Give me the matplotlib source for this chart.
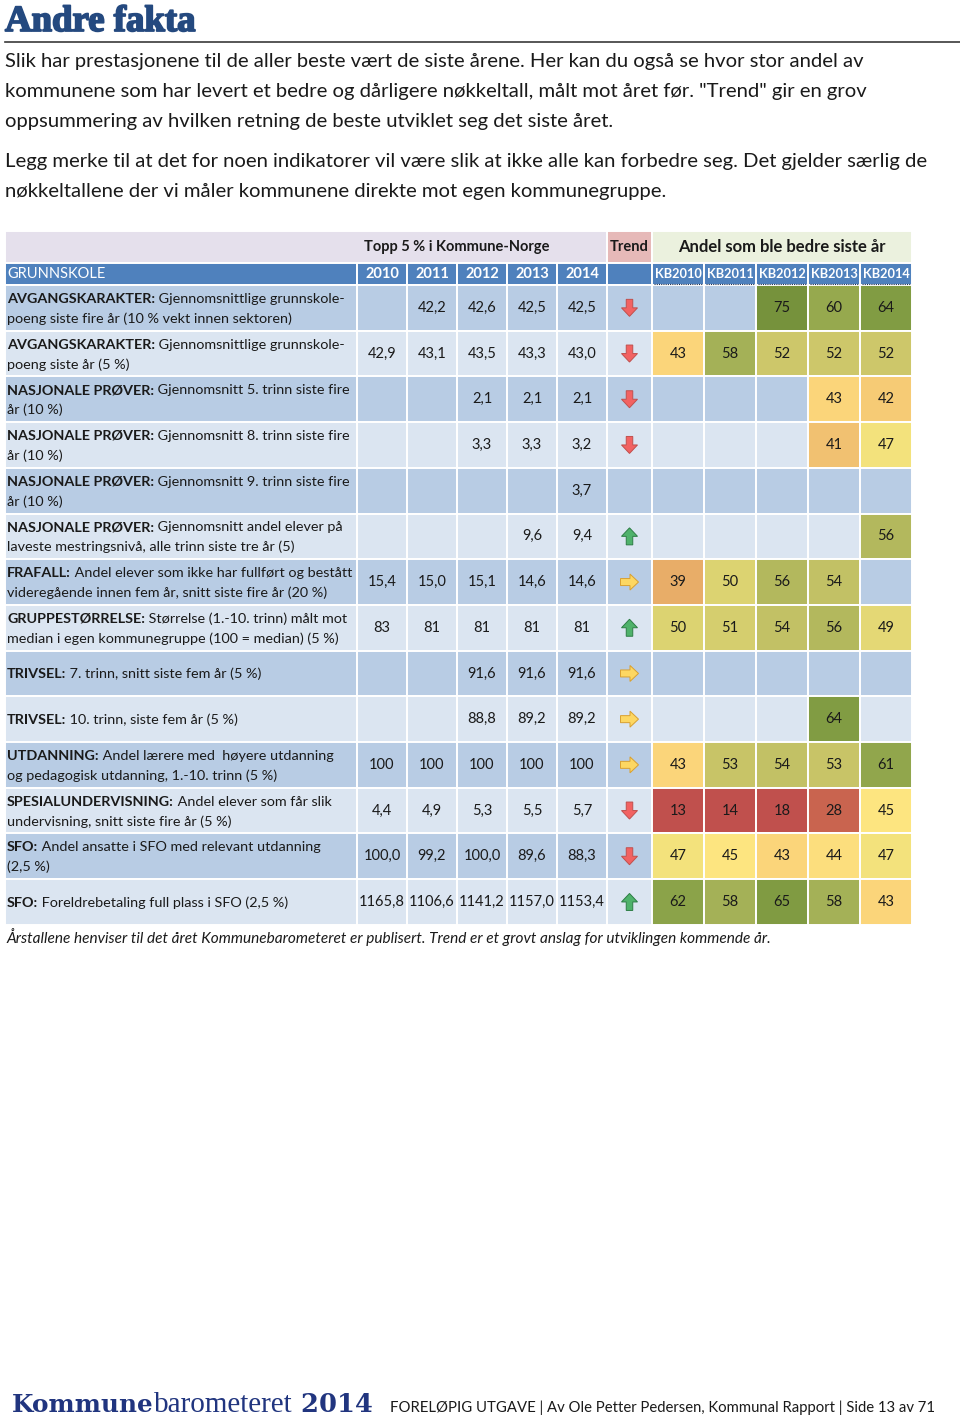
import numpy as np
import matplotlib
matplotlib.use("Agg")
import matplotlib.pyplot as plt
import matplotlib.patheffects as pe
from matplotlib.patches import Rectangle, FancyArrow
from matplotlib.colors import LinearSegmentedColormap, Normalize

plt.rcParams['font.family'] = ['Lato', 'DejaVu Sans']

# ---- data ----
years = ['2010', '2011', '2012', '2013', '2014']
kb_years = ['KB2010', 'KB2011', 'KB2012', 'KB2013', 'KB2014']

label_bold = ['AVGANGSKARAKTER:', 'AVGANGSKARAKTER:', 'NASJONALE PRØVER:',
              'NASJONALE PRØVER:', 'NASJONALE PRØVER:', 'NASJONALE PRØVER:',
              'FRAFALL:', 'GRUPPESTØRRELSE:', 'TRIVSEL:', 'TRIVSEL:',
              'UTDANNING:', 'SPESIALUNDERVISNING:', 'SFO:', 'SFO:']
label_line1 = [' Gjennomsnittlige grunnskole-',
               ' Gjennomsnittlige grunnskole-',
               ' Gjennomsnitt 5. trinn siste fire',
               ' Gjennomsnitt 8. trinn siste fire',
               ' Gjennomsnitt 9. trinn siste fire',
               ' Gjennomsnitt andel elever på',
               ' Andel elever som ikke har fullført og bestått',
               ' Størrelse (1.-10. trinn) målt mot',
               ' 7. trinn, snitt siste fem år (5 %)',
               ' 10. trinn, siste fem år (5 %)',
               ' Andel lærere med  høyere utdanning',
               ' Andel elever som får slik',
               ' Andel ansatte i SFO med relevant utdanning',
               ' Foreldrebetaling full plass i SFO (2,5 %)']
label_line2 = ['poeng siste fire år (10 % vekt innen sektoren)',
               'poeng siste år (5 %)',
               'år (10 %)',
               'år (10 %)',
               'år (10 %)',
               'laveste mestringsnivå, alle trinn siste tre år (5)',
               'videregående innen fem år, snitt siste fire år (20 %)',
               'median i egen kommunegruppe (100 = median) (5 %)',
               '', '',
               'og pedagogisk utdanning, 1.-10. trinn (5 %)',
               'undervisning, snitt siste fire år (5 %)',
               '(2,5 %)',
               '']

N = None
top5 = [[N, 42.2, 42.6, 42.5, 42.5],
        [42.9, 43.1, 43.5, 43.3, 43.0],
        [N, N, 2.1, 2.1, 2.1],
        [N, N, 3.3, 3.3, 3.2],
        [N, N, N, N, 3.7],
        [N, N, N, 9.6, 9.4],
        [15.4, 15.0, 15.1, 14.6, 14.6],
        [83, 81, 81, 81, 81],
        [N, N, 91.6, 91.6, 91.6],
        [N, N, 88.8, 89.2, 89.2],
        [100, 100, 100, 100, 100],
        [4.4, 4.9, 5.3, 5.5, 5.7],
        [100.0, 99.2, 100.0, 89.6, 88.3],
        [1165.8, 1106.6, 1141.2, 1157.0, 1153.4]]
decimals = [1, 1, 1, 1, 1, 1, 1, 0, 1, 1, 0, 1, 1, 1]

trend = ['down', 'down', 'down', 'down', '', 'up', 'right', 'up',
         'right', 'right', 'right', 'down', 'down', 'up']

better = [[N, N, 75, 60, 64],
          [43, 58, 52, 52, 52],
          [N, N, N, 43, 42],
          [N, N, N, 41, 47],
          [N, N, N, N, N],
          [N, N, N, N, 56],
          [39, 50, 56, 54, N],
          [50, 51, 54, 56, 49],
          [N, N, N, N, N],
          [N, N, N, 64, N],
          [43, 53, 54, 53, 61],
          [13, 14, 18, 28, 45],
          [47, 45, 43, 44, 47],
          [62, 58, 65, 58, 43]]

intro = ["Slik har prestasjonene til de aller beste vært de siste årene. Her kan du også se hvor stor andel av",
         "kommunene som har levert et bedre og dårligere nøkkeltall, målt mot året før. \"Trend\" gir en grov",
         "oppsummering av hvilken retning de beste utviklet seg det siste året.",
         "Legg merke til at det for noen indikatorer vil være slik at ikke alle kan forbedre seg. Det gjelder særlig de",
         "nøkkeltallene der vi måler kommunene direkte mot egen kommunegruppe."]

# ---- styling ----
DARK = '#b8cce4'
LIGHT = '#dbe5f1'
HEAD = '#4f81bd'
TXT = '#1a1a1a'
FS = 10.5
FS_LAB = 10.35

scale_pts = [(13, '#c0504d'), (18, '#c0504d'), (28, '#c9644f'), (39, '#e8ad68'),
             (43, '#fbd67a'), (45, '#fde580'), (47, '#f3e27c'), (50, '#dcd371'),
             (52, '#cec86a'), (54, '#c3c165'), (56, '#b3b85d'), (58, '#a4b157'),
             (60, '#97aa4f'), (64, '#819c43'), (75, '#76923c')]
vmin, vmax = scale_pts[0][0], scale_pts[-1][0]
cmap = LinearSegmentedColormap.from_list(
    'kb', [((v - vmin) / (vmax - vmin), c) for v, c in scale_pts])
norm = Normalize(vmin, vmax)

fig = plt.figure(figsize=(9.6, 14.18), dpi=100)
ax = fig.add_axes([0, 0, 1, 1])
ax.set_xlim(0, 960)
ax.set_ylim(1418, 0)
ax.axis('off')

# column and row grid
widths = [352] + [50] * 5 + [45] + [52] * 5
edges = 5 + np.concatenate([[0], np.cumsum(widths)])
h1_top, h1_bot = 231, 263
h2_bot = 285
row_h = 45.7
row_top = h2_bot + row_h * np.arange(len(label_bold))

def cell(x0, x1, y0, y1, color):
    ax.add_patch(Rectangle((x0, y0), x1 - x0, y1 - y0, facecolor=color,
                           edgecolor='white', linewidth=1.4))

def fmt(v, d):
    if v is None:
        return ''
    return f'{v:.{d}f}'.replace('.', ',')

renderer = fig.canvas.get_renderer()

def run_text(x, y, parts):
    # draws pieces of text one after another on the same baseline
    for s, kw in parts:
        t = ax.text(x, y, s, va='baseline', ha='left', **kw)
        bb = t.get_window_extent(renderer)
        x = ax.transData.inverted().transform((bb.x1, bb.y0))[0]
    return x

# title
ax.text(5, 31, 'Andre fakta', family='Liberation Serif', fontweight='bold',
        fontsize=26.5, color='#24497f', va='baseline',
        path_effects=[pe.withStroke(linewidth=1.3, foreground='#24497f')])
ax.plot([5, 960], [42, 42], color='#3a3a3a', lw=1.2)

intro_y = [62, 92, 121, 162, 191]
for s, y in zip(intro, intro_y):
    ax.text(5, y, s, fontsize=14.6, color=TXT, va='center')

# header row 1
cell(edges[0], edges[6], h1_top, h1_bot, '#e5e0ec')
cell(edges[6], edges[7], h1_top, h1_bot, '#e6b9b8')
cell(edges[7], edges[12], h1_top, h1_bot, '#ebf1de')
mid1 = (h1_top + h1_bot) / 2
ax.text(457, mid1, 'Topp 5 % i Kommune-Norge', fontweight='bold', fontsize=FS,
        ha='center', va='center', color=TXT)
ax.text((edges[6] + edges[7]) / 2, mid1, 'Trend', fontweight='bold', fontsize=FS,
        ha='center', va='center', color=TXT)
ax.text((edges[7] + edges[12]) / 2, mid1, 'Andel som ble bedre siste år',
        fontweight='bold', fontsize=12, ha='center', va='center', color=TXT)

# header row 2
mid2 = (h1_bot + h2_bot) / 2
for i in range(12):
    cell(edges[i], edges[i + 1], h1_bot, h2_bot, HEAD)
ax.text(edges[0] + 2, mid2, 'GRUNNSKOLE', fontsize=FS, color='white', va='center')
for j, yr in enumerate(years):
    ax.text((edges[j + 1] + edges[j + 2]) / 2, mid2, yr, fontweight='bold',
            fontsize=FS, color='white', ha='center', va='center')
for j, kb in enumerate(kb_years):
    x0, x1 = edges[j + 7], edges[j + 8]
    ax.text((x0 + x1) / 2, mid2, kb, fontweight='bold', fontsize=9.2,
            color='white', ha='center', va='center')
    ax.plot([x0 + 2, x1 - 2], [h2_bot - 1.5, h2_bot - 1.5], color='#203050',
            lw=0.8, ls=(0, (1, 1)))

arrow_style = {'down': ('#f26262', '#c0504d'), 'up': ('#4fb26b', '#2d7d45'),
               'right': ('#fdd762', '#d9a030')}

# data rows
for i in range(len(label_bold)):
    y0 = row_top[i]
    y1 = y0 + row_h
    cy = (y0 + y1) / 2
    bg = DARK if i % 2 == 0 else LIGHT
    for c in range(7):
        cell(edges[c], edges[c + 1], y0, y1, bg)

    # label
    if label_line2[i]:
        base1, base2 = cy - 5, cy + 15
    else:
        base1, base2 = cy + 5, None
    run_text(edges[0] + 2, base1, [(label_bold[i], dict(fontweight='bold', fontsize=FS_LAB, color=TXT)),
                                   (label_line1[i], dict(fontsize=FS_LAB, color=TXT))])
    if base2 is not None:
        ax.text(edges[0] + 2, base2, label_line2[i], fontsize=FS_LAB, color=TXT,
                va='baseline')

    for j, v in enumerate(top5[i]):
        ax.text((edges[j + 1] + edges[j + 2]) / 2, cy, fmt(v, decimals[i]),
                fontsize=FS, color=TXT, ha='center', va='center')

    # trend arrow
    tx = (edges[6] + edges[7]) / 2
    if trend[i]:
        fc, ec = arrow_style[trend[i]]
        if trend[i] == 'down':
            arr = FancyArrow(tx, cy - 8.5, 0, 17, width=6.5, head_width=16,
                             head_length=8.5, length_includes_head=True)
        elif trend[i] == 'up':
            arr = FancyArrow(tx, cy + 8.5, 0, -17, width=6.5, head_width=16,
                             head_length=8.5, length_includes_head=True)
        else:
            arr = FancyArrow(tx - 9, cy, 18, 0, width=7, head_width=16,
                             head_length=8.5, length_includes_head=True)
        arr.set_facecolor(fc)
        arr.set_edgecolor(ec)
        arr.set_linewidth(0.7)
        ax.add_patch(arr)

    # share of municipalities that improved
    for j, v in enumerate(better[i]):
        x0, x1 = edges[j + 7], edges[j + 8]
        cell(x0, x1, y0, y1, bg if v is None else cmap(norm(v)))
        if v is not None:
            ax.text((x0 + x1) / 2, cy, str(v), fontsize=FS, color=TXT,
                    ha='center', va='center')

ax.text(7, 937, 'Årstallene henviser til det året Kommunebarometeret er publisert. '
        'Trend er et grovt anslag for utviklingen kommende år.',
        fontsize=11.1, style='italic', color=TXT, va='center')

# footer
run_text(12, 1412, [('Kommune', dict(family='DejaVu Serif', fontweight='bold',
                                       fontsize=17.8, color='#21357f')),
                    ('barometeret', dict(family='Liberation Serif', fontsize=21,
                                         color='#21357f')),
                    (' 2014', dict(family='DejaVu Serif', fontweight='bold',
                                   fontsize=18.5, color='#21357f'))])
ax.text(390, 1408, 'FORELØPIG UTGAVE | Av Ole Petter Pedersen, Kommunal Rapport | Side 13 av 71',
        fontsize=10.7, color=TXT, va='center')

fig.savefig('out.png', dpi=100)
